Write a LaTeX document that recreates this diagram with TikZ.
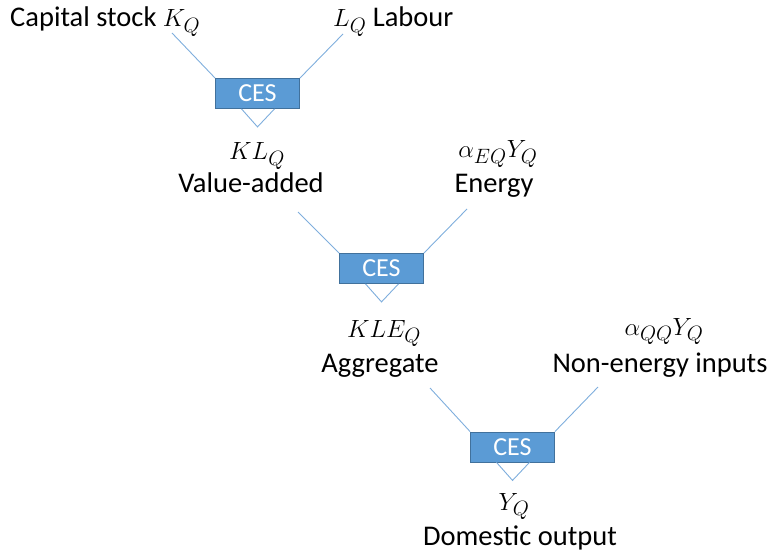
\documentclass[tikz,border=0pt]{standalone}
\usepackage{fontspec}
\setmainfont{Carlito}
\usetikzlibrary{calc}
\definecolor{cesfill}{HTML}{5B9BD5}
\definecolor{cesdraw}{HTML}{41719C}
\definecolor{linkc}{HTML}{7FAEDD}
\tikzset{
  cesbox/.style={draw=cesdraw, fill=cesfill, line width=0.8pt, minimum width=84pt, minimum height=30pt, inner sep=0pt, text=white, font=\fontsize{26}{30}\selectfont},
  lbl/.style={inner sep=0pt, font=\fontsize{28.5}{34}\selectfont},
  link/.style={draw=linkc, line width=0.9pt}
}
\begin{document}
\begin{tikzpicture}[x=1pt, y=-1pt]
\useasboundingbox (0,0) rectangle (771,556);
% boxes
\node[cesbox] (c1) at (257.5,93.5) {CES};
\node[cesbox] (c2) at (381.5,268.5) {CES};
\node[cesbox] (c3) at (512.5,447) {CES};
% labels
\node[lbl, anchor=base west] (kq) at (10,27) {Capital stock $K_Q$};
\node[lbl, anchor=base west] (lq) at (333,27) {$L_Q$ Labour};
\node[lbl, anchor=base] (klq) at (257,160) {$KL_Q$};
\node[lbl, anchor=base] (va) at (251,193) {Value-added};
\node[lbl, anchor=base] (aeq) at (498,158) {$\alpha_{EQ}Y_Q$};
\node[lbl, anchor=base] (en) at (494,193) {Energy};
\node[lbl, anchor=base] (kleq) at (384,337) {$KLE_Q$};
\node[lbl, anchor=base] (agg) at (380,372) {Aggregate};
\node[lbl, anchor=base] (aqq) at (664,335) {$\alpha_{QQ}Y_Q$};
\node[lbl, anchor=base] (ne) at (660,372) {Non-energy inputs};
\node[lbl, anchor=base] (yq) at (514,510) {$Y_Q$};
\node[lbl, anchor=base] (dom) at (520,545) {Domestic output};
% connector start points
\coordinate (s1) at (172,33);
\coordinate (s2) at (343,34);
\coordinate (s3) at (298,212);
\coordinate (s4) at (467,209);
\coordinate (s5) at (430,388);
\coordinate (s6) at (598,387);
% connectors
\draw[link] (s1) -- (c1.north west);
\draw[link] (s2) -- (c1.north east);
\draw[link] (s3) -- (c2.north west);
\draw[link] (s4) -- (c2.north east);
\draw[link] (s5) -- (c3.north west);
\draw[link] (s6) -- (c3.north east);
% triangles under boxes
\foreach \b in {c1,c2,c3}{
  \draw[link] ($(\b.south)+(-16,0)$) -- ($(\b.south)+(0,18)$) -- ($(\b.south)+(17,0)$);
}
\end{tikzpicture}
\end{document}
